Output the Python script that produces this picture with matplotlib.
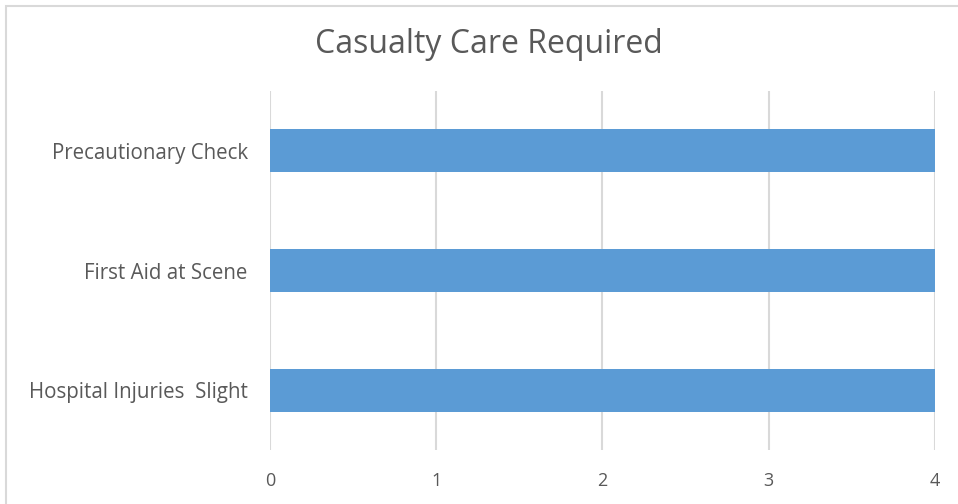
import matplotlib.pyplot as plt
from matplotlib.patches import Rectangle

# chart data
categories = ['Hospital Injuries  Slight', 'First Aid at Scene', 'Precautionary Check']
values = [4, 4, 4]
xticks = [0, 1, 2, 3, 4]

plt.rcParams['font.family'] = ['Open Sans', 'DejaVu Sans']
textcol = '#595959'

fig = plt.figure(figsize=(9.58, 5.04), dpi=100)
ax = fig.add_axes([0.2818, 0.107, 0.976 - 0.2818, 0.8194 - 0.107])

ax.barh(range(len(categories)), values, height=0.36, color='#5B9BD5', zorder=3)
ax.set_ylim(-0.5, len(categories) - 0.5)
ax.set_xlim(0, 4)
ax.set_xticks(xticks)
ax.set_xticklabels([str(t) for t in xticks])
ax.set_yticks(range(len(categories)))
ax.set_yticklabels(categories, fontsize=14.8)
ax.grid(axis='x', color='#D9D9D9', linewidth=1.5, zorder=0)
for s in ax.spines.values():
    s.set_visible(False)
ax.tick_params(axis='both', length=0, colors=textcol)
ax.tick_params(axis='x', pad=16, labelsize=13)
ax.tick_params(axis='y', pad=16)

fig.text(0.51, 0.911, 'Casualty Care Required', ha='center', va='center',
         fontsize=23, color=textcol)

# outer chart border
fig.patches.append(Rectangle((6 / 958, -0.01), 1.0, 1 - 6 / 504 + 0.01,
                             transform=fig.transFigure, fill=False,
                             edgecolor='#D9D9D9', linewidth=1.5))

fig.savefig('out.png', dpi=100)
